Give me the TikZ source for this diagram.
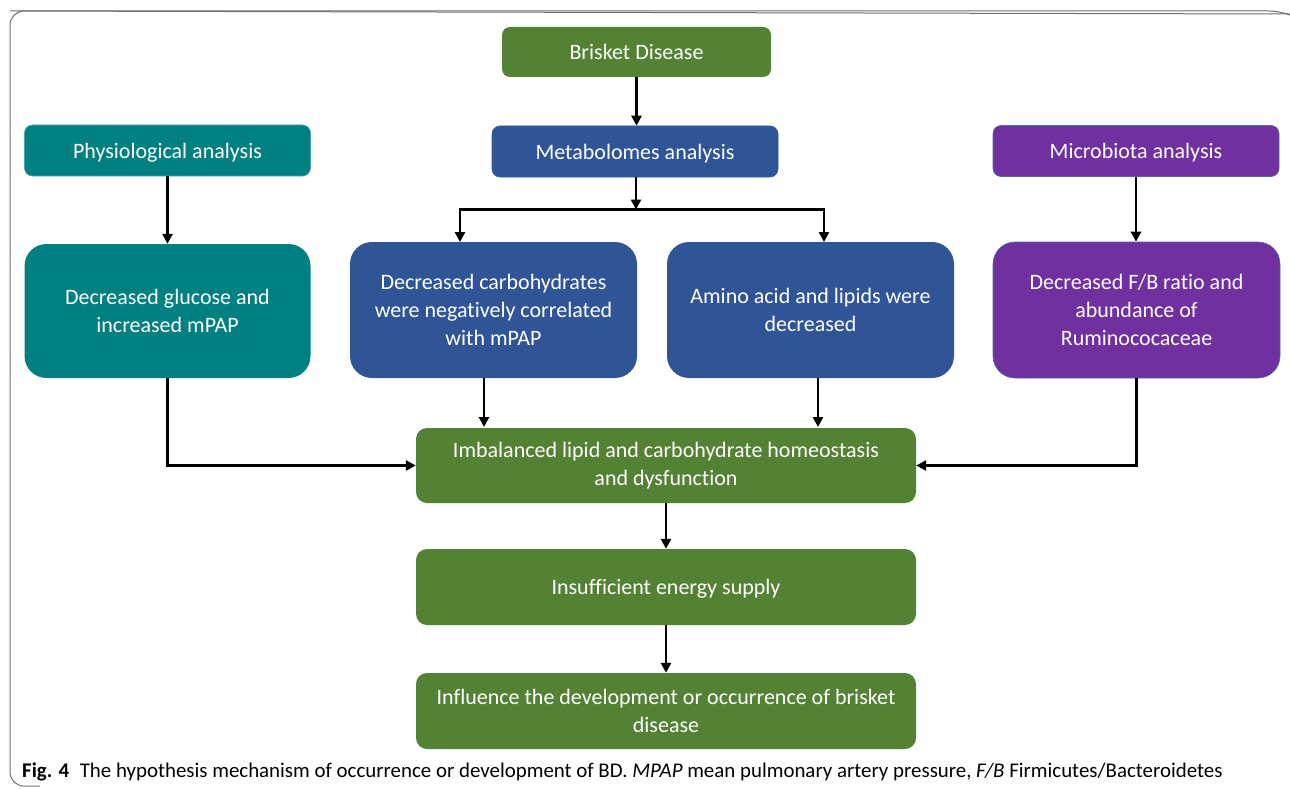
\documentclass[tikz,border=0pt]{standalone}
\usepackage{fontspec}
\setmainfont{Carlito}[Ligatures={NoCommon,NoDiscretionary,NoRare}]
\usetikzlibrary{arrows.meta}
\definecolor{cgreen}{HTML}{548235}
\definecolor{cteal}{HTML}{008080}
\definecolor{cblue}{HTML}{2F5597}
\definecolor{cpurple}{HTML}{7030A0}
\definecolor{cedge}{HTML}{41719C}
\definecolor{frame}{HTML}{6E6E6E}
\tikzset{
  box/.style={rectangle, inner sep=0pt, align=center, text=white,
    font=\fontsize{22}{28}\selectfont},
  oneline/.style={text height=16pt, text depth=1pt},
  smallbox/.style={box, oneline, rounded corners=8pt, minimum height=51pt, minimum width=286pt, draw=cedge, line width=0.6pt},
  bigbox/.style={box, rounded corners=22pt, minimum height=135pt, minimum width=286pt},
  greenbox/.style={box, rounded corners=11pt, fill=cgreen, minimum width=500pt, minimum height=76pt},
  conn/.style={line width=2.8pt, -{Triangle[length=10pt,width=10pt]}},
}
\begin{document}
\begin{tikzpicture}[x=1pt,y=-1pt]
\useasboundingbox (0,0) rectangle (1290,789);
\draw[frame, line width=1pt, rounded corners=14pt] (10,11) -- (1283,11) -- (1289,14) ;
\draw[frame, line width=1pt, rounded corners=14pt] (1289,14) -- (10,11) -- (10,786) -- (40,786);
% top
\node[box, oneline, rounded corners=8pt, fill=cgreen, minimum width=269pt, minimum height=50pt] (bd) at (636.5,52) {Brisket Disease};
\node[smallbox, fill=cteal, draw=cteal!70!white] (phys) at (167.5,150.5) {Physiological analysis};
\node[smallbox, fill=cblue, draw=cblue] (meta) at (635,151.5) {Metabolomes analysis};
\node[smallbox, fill=cpurple] (micro) at (1136,151) {Microbiota analysis};
% second row
\node[bigbox, fill=cteal, minimum height=134pt] (gluc) at (167.5,311) {Decreased glucose and\\increased mPAP};
\node[bigbox, fill=cblue, minimum height=136pt, minimum width=287pt] (carb) at (493.5,310) {Decreased carbohydrates\\were negatively correlated\\with mPAP};
\node[bigbox, fill=cblue, minimum height=136pt, minimum width=287pt] (amino) at (810.5,310) {Amino acid and lipids were\\decreased};
\node[bigbox, fill=cpurple, minimum height=136pt, minimum width=287pt, draw=cedge, line width=0.6pt] (fb) at (1136.5,310) {Decreased F/B ratio and\\abundance of\\Ruminococaceae};
% bottom column
\node[greenbox, minimum height=75pt] (imb) at (666,465.5) {Imbalanced lipid and carbohydrate homeostasis\\and dysfunction};
\node[greenbox, oneline] (ins) at (666,587) {Insufficient energy supply};
\node[greenbox] (inf) at (666,711) {Influence the development or occurrence of brisket\\disease};
% connectors
\coordinate (br) at (636,209.5);
\draw[conn] (bd.south) -- (meta.north -| bd.south);
\draw[conn] (phys.south) -- (gluc.north);
\draw[conn] (micro.south) -- (fb.north -| micro.south);
\draw[conn] (meta.south -| br) -- (br);
\draw[conn] (br) -| (460,242) coordinate (cl);
\draw[conn] (br) -| (824,242) coordinate (cr);
\draw[conn] (gluc.south) |- (imb.west);
\draw[conn] (fb.south) |- (imb.east);
\draw[conn] (484,378) -- (484,427);
\draw[conn] (818,378) -- (818,427);
\draw[conn] (imb.south) -- (ins.north);
\draw[conn] (ins.south) -- (inf.north);
% caption
\node[anchor=base west, inner sep=0pt, font=\fontsize{20.9}{25}\selectfont] (cap) at (22,777)
  {\textbf{Fig. 4}\hspace{0.5em}The hypothesis mechanism of occurrence or development of BD. \textit{MPAP} mean pulmonary artery pressure, \textit{F/B} Firmicutes/Bacteroidetes};
\end{tikzpicture}
\end{document}
